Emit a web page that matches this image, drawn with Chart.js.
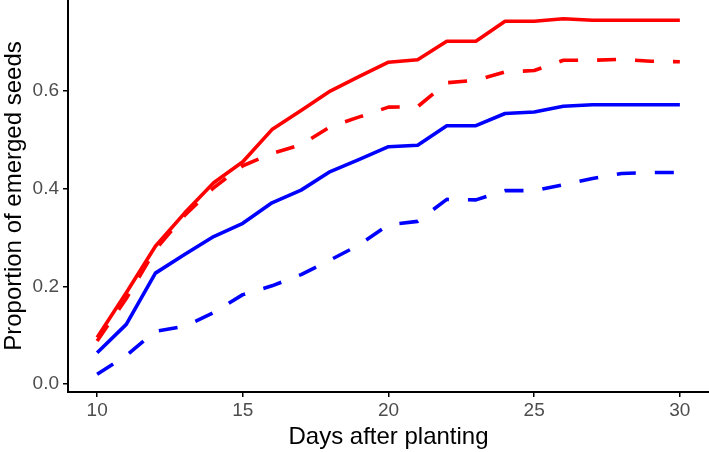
<!DOCTYPE html>
<html>
<head>
<meta charset="utf-8">
<script src="https://cdn.jsdelivr.net/npm/chart.js@4.4.1/dist/chart.umd.min.js"></script>
<style>
  html, body { margin: 0; padding: 0; background: #fff; }
  #wrap { width: 709px; height: 452px; }
</style>
</head>
<body>
<div id="wrap"><canvas id="emergence" width="709" height="452"></canvas></div>
<script>
// dias após o plantio
const days = [10, 11, 12, 13, 14, 15, 16, 17, 18, 19, 20, 21, 22, 23, 24, 25, 26, 27, 28, 29, 30];

// proporção de sementes emergidas
const redSolid   = [0.095, 0.187, 0.282, 0.350, 0.412, 0.455, 0.521, 0.560, 0.600, 0.630, 0.659, 0.664, 0.702, 0.702, 0.743, 0.743, 0.748, 0.745, 0.745, 0.745, 0.745];
const redDashed  = [0.088, 0.175, 0.275, 0.345, 0.402, 0.447, 0.472, 0.490, 0.527, 0.547, 0.567, 0.568, 0.617, 0.622, 0.639, 0.642, 0.663, 0.663, 0.665, 0.661, 0.660];
const blueSolid  = [0.064, 0.122, 0.227, 0.265, 0.302, 0.329, 0.371, 0.397, 0.435, 0.460, 0.486, 0.489, 0.529, 0.529, 0.554, 0.557, 0.569, 0.572, 0.572, 0.572, 0.572];
const blueDashed = [0.020, 0.058, 0.108, 0.118, 0.146, 0.183, 0.201, 0.224, 0.254, 0.285, 0.326, 0.333, 0.378, 0.377, 0.396, 0.396, 0.408, 0.421, 0.431, 0.433, 0.433];

const xTicks = [10, 15, 20, 25, 30];
const yTicks = [0.0, 0.2, 0.4, 0.6];

const fontFamily = "'Liberation Sans', Arial, sans-serif";

function toPoints(values) {
    return days.map((d, i) => ({ x: d, y: values[i] }));
}

function line(values, color, dashed) {
    return {
        data: toPoints(values),
        borderColor: color,
        borderWidth: 3.6,
        borderDash: dashed ? [19, 19] : [],
        borderCapStyle: 'butt',
        borderJoinStyle: 'round',
        pointRadius: 0,
        tension: 0,
        fill: false
    };
}

// sem margem extra nas pontas dos eixos (como no ggplot)
function noEdgePadding(scale) {
    scale.paddingTop = 0;
    scale.paddingBottom = 0;
    scale.paddingLeft = 0;
    scale.paddingRight = 0;
}

const ctx = document.getElementById('emergence').getContext('2d');
new Chart(ctx, {
    type: 'line',
    data: {
        datasets: [
            line(blueDashed, '#0000FF', true),
            line(blueSolid, '#0000FF', false),
            line(redSolid, '#FF0000', false),
            line(redDashed, '#FF0000', true)
        ]
    },
    options: {
        responsive: false,
        animation: false,
        layout: { padding: 0 },
        plugins: {
            legend: { display: false },
            tooltip: { enabled: false }
        },
        scales: {
            x: {
                type: 'linear',
                min: 9,
                max: 31,
                afterBuildTicks: scale => { scale.ticks = xTicks.map(v => ({ value: v })); },
                afterFit: scale => { scale.height = 60; noEdgePadding(scale); },
                ticks: {
                    color: '#4D4D4D',
                    font: { family: fontFamily, size: 19 },
                    padding: 2,
                    maxRotation: 0,
                    callback: v => String(v)
                },
                grid: {
                    display: true,
                    drawOnChartArea: false,
                    drawTicks: true,
                    tickLength: 5,
                    color: '#000',
                    lineWidth: 1.5
                },
                border: { display: true, color: '#000', width: 2 },
                title: {
                    display: true,
                    text: 'Days after planting',
                    color: '#000',
                    font: { family: fontFamily, size: 24 },
                    padding: { top: 0, bottom: 0 }
                }
            },
            y: {
                type: 'linear',
                min: -0.0165,
                max: 0.7865,
                afterBuildTicks: scale => { scale.ticks = yTicks.map(v => ({ value: v })); },
                afterFit: scale => { scale.width = 68; noEdgePadding(scale); },
                ticks: {
                    color: '#4D4D4D',
                    font: { family: fontFamily, size: 19 },
                    padding: 4,
                    callback: v => v.toFixed(1)
                },
                grid: {
                    display: true,
                    drawOnChartArea: false,
                    drawTicks: true,
                    tickLength: 5,
                    color: '#000',
                    lineWidth: 1.5
                },
                border: { display: true, color: '#000', width: 2 },
                title: {
                    display: true,
                    text: 'Proportion of emerged seeds',
                    color: '#000',
                    font: { family: fontFamily, size: 24 },
                    padding: { top: 0, bottom: 0 }
                }
            }
        }
    }
});
</script>
</body>
</html>
